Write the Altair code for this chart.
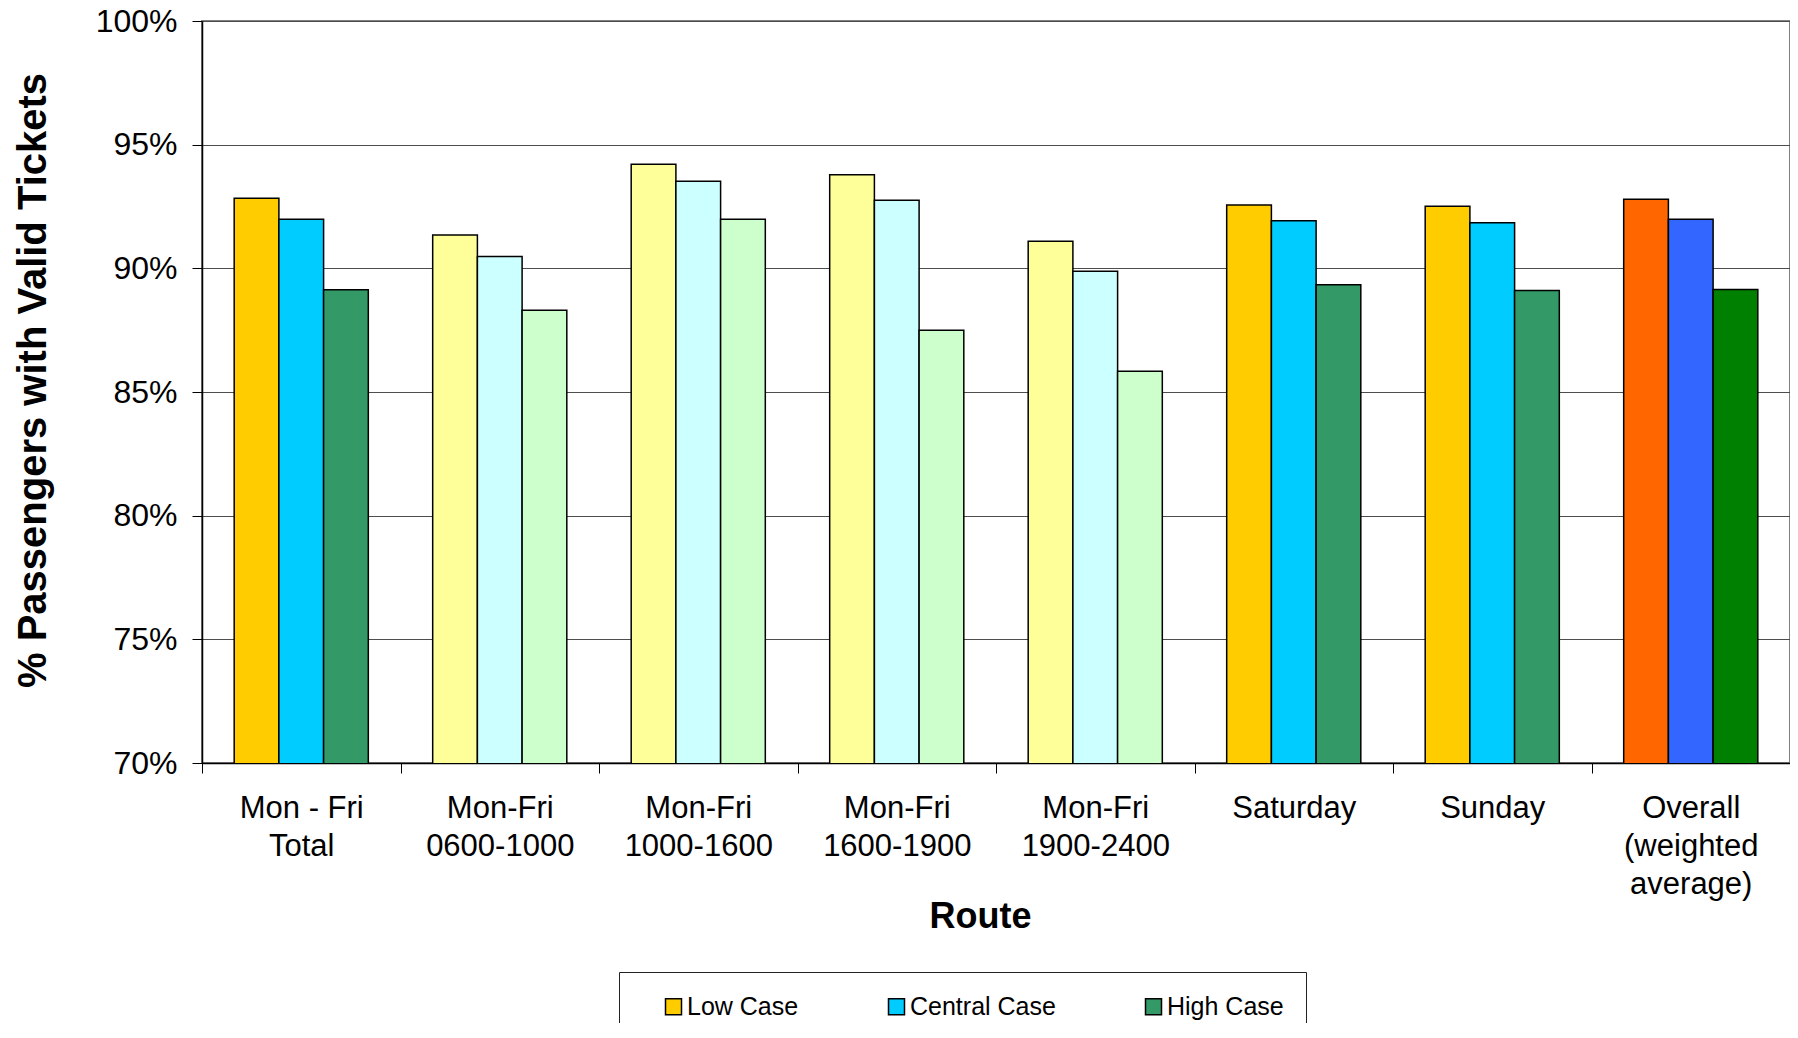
import altair as alt
import pandas as pd

# ---- data ----
categories = [
    "Mon - Fri|Total",
    "Mon-Fri|0600-1000",
    "Mon-Fri|1000-1600",
    "Mon-Fri|1600-1900",
    "Mon-Fri|1900-2400",
    "Saturday",
    "Sunday",
    "Overall|(weighted|average)",
]
cases = ["Low Case", "Central Case", "High Case"]

low_values = [92.83, 91.35, 94.21, 93.78, 91.10, 92.56, 92.51, 92.79]
central_values = [91.98, 90.48, 93.52, 92.75, 89.88, 91.92, 91.84, 91.98]
high_values = [89.13, 88.31, 91.98, 87.50, 85.84, 89.34, 89.10, 89.14]

low_colors = ["#FFCC00", "#FFFF99", "#FFFF99", "#FFFF99", "#FFFF99", "#FFCC00", "#FFCC00", "#FF6600"]
central_colors = ["#00CCFF", "#CCFFFF", "#CCFFFF", "#CCFFFF", "#CCFFFF", "#00CCFF", "#00CCFF", "#3366FF"]
high_colors = ["#339966", "#CCFFCC", "#CCFFCC", "#CCFFCC", "#CCFFCC", "#339966", "#339966", "#008000"]
legend_colors = ["#FFCC00", "#00CCFF", "#339966"]

y_ticks = [0.70, 0.75, 0.80, 0.85, 0.90, 0.95, 1.00]

rows = []
for case, vals, cols in zip(cases, [low_values, central_values, high_values],
                            [low_colors, central_colors, high_colors]):
    for cat, v, c in zip(categories, vals, cols):
        rows.append({"route": cat, "case": case, "value": v / 100.0, "fill": c})
df = pd.DataFrame(rows)

FONT = "Liberation Sans"

base = alt.Chart(df).encode(
    x=alt.X(
        "route:N",
        sort=categories,
        scale=alt.Scale(paddingInner=0, paddingOuter=0),
        axis=alt.Axis(
            title="Route",
            labelExpr="split(datum.label, '|')",
            labelAngle=0,
            labelFont=FONT,
            labelFontSize=31,
            labelLineHeight=38,
            labelColor="black",
            labelBaseline="top",
            labelPadding=20,
            labelLimit=400,
            tickBand="extent",
            tickSize=10,
            tickColor="black",
            domainColor="black",
            domainWidth=1.5,
            grid=False,
            titleFont=FONT,
            titleFontSize=36,
            titleFontWeight="bold",
            titleColor="black",
            titleX=778,
            titleY=164,
            titleBaseline="alphabetic",
            titleAlign="center",
        ),
    ),
    xOffset=alt.XOffset(
        "case:N",
        sort=cases,
        scale=alt.Scale(domain=cases, paddingInner=0, paddingOuter=0.72),
    ),
    y=alt.Y(
        "value:Q",
        scale=alt.Scale(domain=[0.70, 1.00], zero=False, nice=False),
        axis=alt.Axis(
            title="% Passengers with Valid Tickets",
            values=y_ticks,
            format=".0%",
            labelFont=FONT,
            labelFontSize=32,
            labelColor="black",
            labelPadding=15,
            tickSize=10,
            tickColor="black",
            domainColor="black",
            domainWidth=1.5,
            grid=True,
            gridColor="#4d4d4d",
            gridWidth=1,
            titleFont=FONT,
            titleFontSize=40,
            titleFontWeight="bold",
            titleColor="black",
            titleAngle=270,
            titleX=-157,
            titleY=359,
            titleBaseline="alphabetic",
            titleAlign="center",
        ),
    ),
)

bars = base.mark_bar(stroke="black", strokeWidth=1.5, clip=True).encode(
    fill=alt.Fill("fill:N", scale=None),
)

NBSP3 = "\u00a0\u00a0\u00a0"

legend_layer = base.mark_bar(opacity=0, stroke="black", strokeWidth=1.5, clip=True).encode(
    color=alt.Color(
        "case:N",
        sort=cases,
        scale=alt.Scale(domain=cases, range=legend_colors),
        legend=alt.Legend(
            title=None,
            orient="none",
            legendX=417,
            legendY=951,
            direction="horizontal",
            strokeColor="#222222",
            fillColor="white",
            padding=22,
            symbolOffset=20,
            symbolType="square",
            symbolSize=256,
            symbolStrokeColor="black",
            symbolStrokeWidth=1.5,
            symbolOpacity=1,
            labelFont=FONT,
            labelFontSize=25,
            labelColor="black",
            labelOffset=1,
            labelExpr="datum.label == 'High Case' ? datum.label + '" + NBSP3 + "' : datum.label",
            columnPadding=65,
        ),
    ),
)

chart = (
    alt.layer(bars, legend_layer)
    .properties(
        width=1588,
        height=742,
        padding={"left": 194, "top": 13, "right": 0, "bottom": 260},
        autosize=alt.AutoSizeParams(type="none"),
        background="white",
    )
    .configure_view(stroke="#808080", strokeWidth=2)
)

chart.save("out.html", embed_options={"renderer": "svg", "actions": False})
